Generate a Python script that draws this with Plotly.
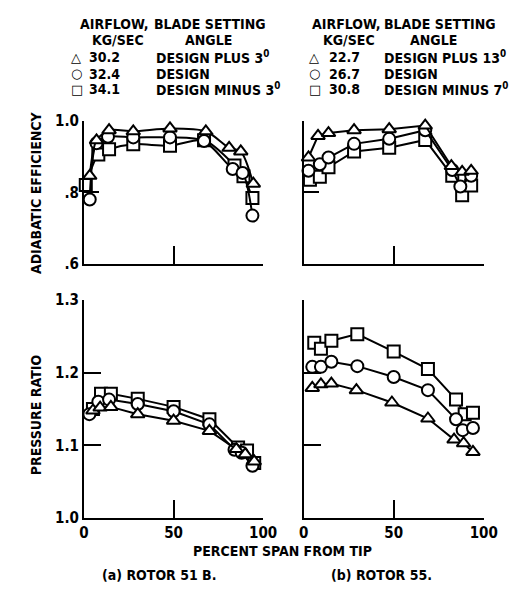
import plotly.graph_objects as go

W, H = 518, 597

# ---------------- data ----------------
# Rotor 51B adiabatic efficiency
a_eff_tri_x = [3.2, 7, 14, 27.5, 48, 68, 81, 87.5, 94.5]
a_eff_tri_y = [0.846, 0.945, 0.973, 0.970, 0.978, 0.970, 0.924, 0.914, 0.824]
a_eff_cir_x = [3.2, 7, 13.4, 27.5, 48, 67, 83, 88.5, 94]
a_eff_cir_y = [0.78, 0.937, 0.955, 0.953, 0.953, 0.943, 0.865, 0.854, 0.735]
a_eff_sq_x = [1, 8, 14, 27.5, 48, 67, 84, 89, 94]
a_eff_sq_y = [0.82, 0.905, 0.92, 0.934, 0.93, 0.945, 0.875, 0.845, 0.784]

# Rotor 55 adiabatic efficiency
b_eff_tri_x = [2.7, 8, 13.8, 28, 47.5, 67.5, 82, 88, 93]
b_eff_tri_y = [0.897, 0.957, 0.965, 0.973, 0.976, 0.986, 0.873, 0.857, 0.86]
b_eff_cir_x = [2.7, 9, 13.8, 28, 47.5, 67.5, 82.5, 87, 93]
b_eff_cir_y = [0.86, 0.878, 0.897, 0.935, 0.949, 0.973, 0.862, 0.816, 0.846]
b_eff_sq_x = [3.5, 9, 13.8, 28, 47.5, 67.5, 82.5, 88, 93]
b_eff_sq_y = [0.835, 0.843, 0.87, 0.914, 0.924, 0.946, 0.846, 0.792, 0.819]

# Rotor 51B pressure ratio
a_pr_tri_x = [5, 9, 15, 30, 50, 70, 85, 90, 95]
a_pr_tri_y = [1.148, 1.152, 1.153, 1.143, 1.134, 1.120, 1.095, 1.088, 1.078]
a_pr_cir_x = [3, 8, 14, 30, 50, 70, 84, 88, 94]
a_pr_cir_y = [1.143, 1.160, 1.163, 1.157, 1.147, 1.129, 1.094, 1.090, 1.072]
a_pr_sq_x = [5, 9.5, 15, 30, 50, 70, 86, 91, 95]
a_pr_sq_y = [1.150, 1.171, 1.171, 1.164, 1.153, 1.136, 1.097, 1.093, 1.076]

# Rotor 55 pressure ratio
b_pr_tri_x = [4.8, 9.6, 15.4, 29.3, 49, 69, 83.5, 88.8, 94]
b_pr_tri_y = [1.179, 1.184, 1.185, 1.176, 1.159, 1.137, 1.108, 1.103, 1.091]
b_pr_cir_x = [4.8, 9.6, 15.4, 29.8, 50, 69, 84.6, 88.3, 94]
b_pr_cir_y = [1.208, 1.208, 1.215, 1.209, 1.194, 1.176, 1.136, 1.121, 1.124]
b_pr_sq_x = [5.9, 9.6, 15.4, 29.8, 50, 69, 84.6, 89.4, 94]
b_pr_sq_y = [1.241, 1.233, 1.244, 1.253, 1.229, 1.205, 1.163, 1.143, 1.145]

legend_a = [("△", "30.2", "DESIGN PLUS 3<sup>0</sup>"),
            ("○", "32.4", "DESIGN"),
            ("□", "34.1", "DESIGN MINUS 3<sup>0</sup>")]
legend_b = [("△", "22.7", "DESIGN PLUS 13<sup>0</sup>"),
            ("○", "26.7", "DESIGN"),
            ("□", "30.8", "DESIGN MINUS 7<sup>0</sup>")]

x_ticks = [0, 50, 100]
eff_ticks = [0.6, 0.8, 1.0]
eff_text = [".6", ".8", "1.0"]
pr_ticks = [1.0, 1.1, 1.2, 1.3]
pr_text = ["1.0", "1.1", "1.2", "1.3"]

# ---------------- figure ----------------
FONT = "DejaVu Sans Condensed, Liberation Sans Narrow, sans-serif"
fig = go.Figure()

def add(xs, ys, sym, xa, ya, shape="linear"):
    fig.add_trace(go.Scatter(
        x=xs, y=ys, mode="lines+markers", xaxis=xa, yaxis=ya,
        line=dict(color="black", width=2, shape=shape, smoothing=0.8),
        marker=dict(symbol=sym, size=12, color="white",
                    line=dict(color="black", width=2)),
        cliponaxis=False, showlegend=False, hoverinfo="skip"))

panels = [
    ("x", "y", [(a_eff_sq_x, a_eff_sq_y, "square"), (a_eff_cir_x, a_eff_cir_y, "circle"),
                (a_eff_tri_x, a_eff_tri_y, "triangle-up")], "spline"),
    ("x2", "y2", [(b_eff_sq_x, b_eff_sq_y, "square"), (b_eff_cir_x, b_eff_cir_y, "circle"),
                  (b_eff_tri_x, b_eff_tri_y, "triangle-up")], "linear"),
    ("x3", "y3", [(a_pr_sq_x, a_pr_sq_y, "square"), (a_pr_cir_x, a_pr_cir_y, "circle"),
                  (a_pr_tri_x, a_pr_tri_y, "triangle-up")], "linear"),
    ("x4", "y4", [(b_pr_sq_x, b_pr_sq_y, "square"), (b_pr_cir_x, b_pr_cir_y, "circle"),
                  (b_pr_tri_x, b_pr_tri_y, "triangle-up")], "linear"),
]
for xa, ya, series, shape in panels:
    for xs, ys, sym in series:
        add(xs, ys, sym, xa, ya, shape)

def dx(p):
    return p / W

def dy(p):
    return 1 - p / H

xl = [dx(82), dx(268)]
xr = [dx(310), dx(497)]
yt = [dy(263), dy(115)]
yb = [dy(525), dy(300)]

tickfont = dict(family=FONT, size=15, color="black", weight="bold")

def xaxis(domain, anchor, labels):
    return dict(domain=domain, anchor=anchor, range=[0, 100], showline=True,
                linecolor="black", linewidth=2, showgrid=False, zeroline=False,
                ticks="inside", ticklen=18, tickwidth=2, tickcolor="black",
                tickvals=x_ticks, ticktext=[str(v) for v in x_ticks],
                showticklabels=labels, tickfont=tickfont, fixedrange=True)

def yaxis(domain, anchor, rng, vals, text, labels, tlen):
    return dict(domain=domain, anchor=anchor, range=rng, showline=True,
                linecolor="black", linewidth=2, showgrid=False, zeroline=False,
                ticks="inside", ticklen=tlen, tickwidth=2, tickcolor="black",
                tickvals=vals, ticktext=text, showticklabels=labels,
                tickfont=tickfont, fixedrange=True)

fig.update_layout(
    width=W, height=H, margin=dict(l=0, r=0, t=0, b=0),
    paper_bgcolor="white", plot_bgcolor="white",
    font=dict(family=FONT, color="black", size=14, weight="bold"),
    xaxis=xaxis(xl, "y", False),
    yaxis=yaxis(yt, "x", [0.6, 1.0], eff_ticks, eff_text, True, 15),
    xaxis2=xaxis(xr, "y2", False),
    yaxis2=yaxis(yt, "x2", [0.6, 1.0], eff_ticks, eff_text, False, 15),
    xaxis3=xaxis(xl, "y3", True),
    yaxis3=yaxis(yb, "x3", [1.0, 1.3], pr_ticks, pr_text, True, 17),
    xaxis4=xaxis(xr, "y4", True),
    yaxis4=yaxis(yb, "x4", [1.0, 1.3], pr_ticks, pr_text, False, 17),
)

ann = []
def text(x, y, s, size=14, xanchor="center", angle=0, family=FONT):
    ann.append(dict(x=dx(x), y=dy(y), xref="paper", yref="paper", text=s,
                    showarrow=False, xanchor=xanchor, yanchor="middle",
                    textangle=angle,
                    font=dict(family=family, size=size, color="black", weight="bold")))

# legend headers
text(114, 15, "AIRFLOW,")
text(117, 32, "KG/SEC")
text(213, 15, "BLADE SETTING")
text(211, 32, "ANGLE")
text(354, 15, "AIRFLOW,")
text(357, 32, "KG/SEC")
text(452, 15, "BLADE SETTING")
text(445, 32, "ANGLE")

rows = [50, 67, 83]
for (sym, num, desc), yy in zip(legend_a, rows):
    text(66, yy, sym, size=13, xanchor="left", family="DejaVu Sans")
    text(85, yy, num, xanchor="left")
    text(155, yy, desc, xanchor="left")
for (sym, num, desc), yy in zip(legend_b, rows):
    text(313, yy, sym, size=13, xanchor="left", family="DejaVu Sans")
    text(334, yy, num, xanchor="left")
    text(391, yy, desc, xanchor="left")

text(33, 189, "ADIABATIC EFFICIENCY", angle=-90)
text(33, 418, "PRESSURE RATIO", angle=-90)
text(288, 559, "PERCENT SPAN FROM TIP")
text(160, 584, "(a) ROTOR 51 B.")
text(391, 584, "(b) ROTOR 55.")

fig.update_layout(annotations=ann)
fig.write_html("out.html")
